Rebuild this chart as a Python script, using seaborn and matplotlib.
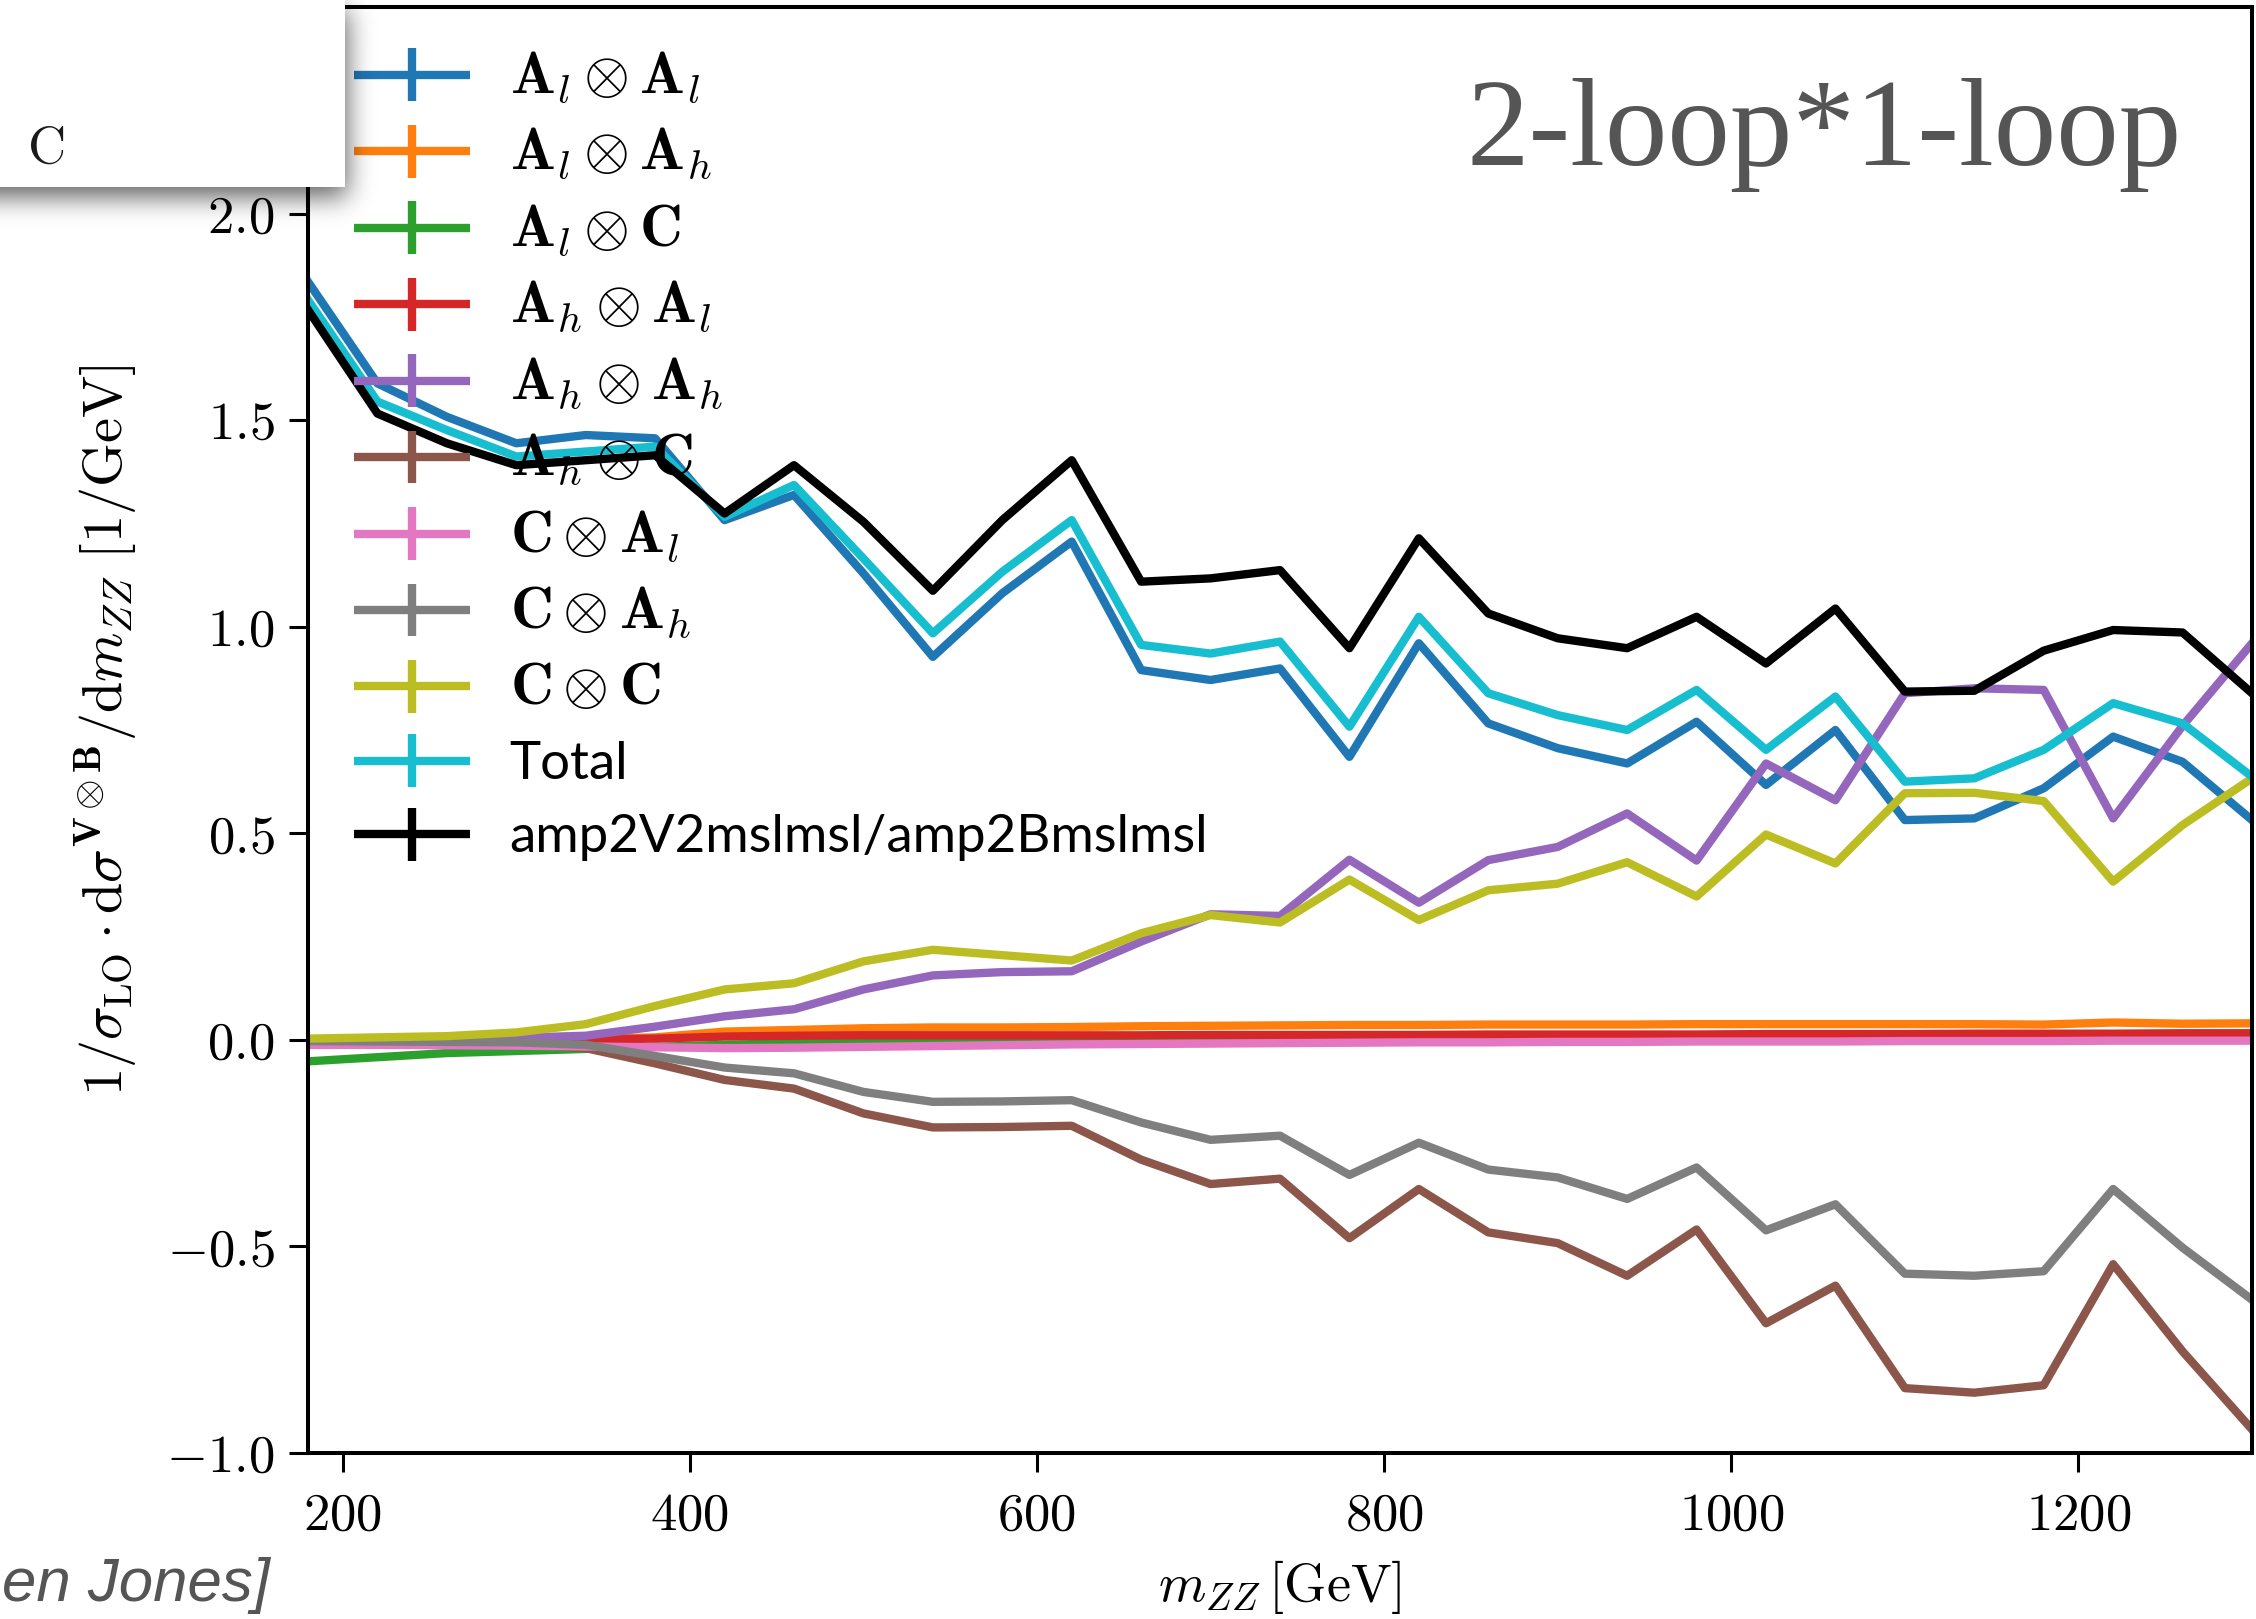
import numpy as np
import pandas as pd
import matplotlib
matplotlib.use("Agg")
import matplotlib.pyplot as plt
import seaborn as sns
from matplotlib.lines import Line2D
from matplotlib.legend_handler import HandlerBase
from matplotlib.patches import Rectangle
from matplotlib.ticker import FuncFormatter

# ---------------- data ----------------
m_zz = [180, 220, 260, 300, 340, 380, 420, 460, 500, 540, 580, 620, 660, 700, 740,
        780, 820, 860, 900, 940, 980, 1020, 1060, 1100, 1140, 1180, 1220, 1260, 1300]

al_al = [1.835, 1.589, 1.508, 1.444, 1.464, 1.456, 1.258, 1.319, 1.129, 0.927, 1.081, 1.206, 0.895, 0.871, 0.899,
         0.685, 0.960, 0.766, 0.706, 0.669, 0.770, 0.617, 0.750, 0.532, 0.536, 0.609, 0.734, 0.673, 0.532]
al_ah = [0.000, 0.000, 0.001, 0.001, 0.002, 0.006, 0.020, 0.024, 0.028, 0.030, 0.030, 0.031, 0.033, 0.034, 0.035,
         0.036, 0.036, 0.037, 0.037, 0.037, 0.038, 0.038, 0.038, 0.038, 0.038, 0.037, 0.042, 0.039, 0.040]
al_c = [-0.052, -0.042, -0.032, -0.027, -0.022, -0.017, -0.012, -0.008, -0.005, -0.003, -0.002, -0.001, 0.000, 0.000, 0.001,
        0.001, 0.001, 0.002, 0.002, 0.002, 0.002, 0.002, 0.003, 0.003, 0.003, 0.003, 0.003, 0.003, 0.003]
ah_al = [0.000, 0.000, 0.000, 0.000, 0.001, 0.003, 0.008, 0.010, 0.011, 0.011, 0.011, 0.011, 0.011, 0.012, 0.012,
         0.012, 0.012, 0.013, 0.013, 0.013, 0.013, 0.014, 0.014, 0.014, 0.015, 0.015, 0.015, 0.016, 0.016]
ah_ah = [0.000, 0.000, 0.002, 0.005, 0.010, 0.032, 0.057, 0.074, 0.122, 0.156, 0.164, 0.166, 0.238, 0.304, 0.300,
         0.436, 0.332, 0.435, 0.467, 0.548, 0.434, 0.669, 0.580, 0.839, 0.851, 0.847, 0.536, 0.760, 0.960]
ah_c = [-0.003, -0.004, -0.006, -0.009, -0.020, -0.057, -0.097, -0.118, -0.178, -0.212, -0.211, -0.208, -0.290, -0.349, -0.336,
        -0.480, -0.361, -0.466, -0.492, -0.571, -0.459, -0.686, -0.595, -0.843, -0.854, -0.836, -0.543, -0.754, -0.943]
c_al = [-0.012, -0.012, -0.013, -0.014, -0.016, -0.018, -0.020, -0.019, -0.017, -0.015, -0.013, -0.011, -0.010, -0.009, -0.008,
        -0.007, -0.006, -0.006, -0.005, -0.005, -0.004, -0.004, -0.004, -0.003, -0.003, -0.003, -0.002, -0.002, -0.002]
c_ah = [-0.003, -0.004, -0.005, -0.006, -0.012, -0.039, -0.067, -0.081, -0.126, -0.150, -0.149, -0.146, -0.200, -0.242, -0.232,
        -0.327, -0.249, -0.314, -0.333, -0.385, -0.309, -0.461, -0.398, -0.566, -0.571, -0.560, -0.361, -0.503, -0.629]
c_c = [0.003, 0.006, 0.009, 0.018, 0.038, 0.082, 0.122, 0.137, 0.190, 0.218, 0.205, 0.192, 0.258, 0.302, 0.284,
       0.388, 0.290, 0.362, 0.378, 0.430, 0.347, 0.497, 0.427, 0.597, 0.598, 0.578, 0.383, 0.520, 0.633]
total = [1.791, 1.545, 1.476, 1.412, 1.424, 1.436, 1.266, 1.343, 1.165, 0.984, 1.133, 1.258, 0.956, 0.935, 0.964,
         0.758, 1.024, 0.839, 0.786, 0.750, 0.847, 0.702, 0.831, 0.625, 0.633, 0.702, 0.815, 0.766, 0.637]
ratio = [1.767, 1.516, 1.444, 1.391, 1.403, 1.415, 1.274, 1.391, 1.254, 1.087, 1.258, 1.403, 1.109, 1.117, 1.137,
         0.948, 1.214, 1.032, 0.972, 0.948, 1.024, 0.911, 1.044, 0.843, 0.845, 0.942, 0.992, 0.986, 0.839]

series_labels = [r'$\mathbf{A}_l \otimes \mathbf{A}_l$', r'$\mathbf{A}_l \otimes \mathbf{A}_h$',
                 r'$\mathbf{A}_l \otimes \mathbf{C}$', r'$\mathbf{A}_h \otimes \mathbf{A}_l$',
                 r'$\mathbf{A}_h \otimes \mathbf{A}_h$', r'$\mathbf{A}_h \otimes \mathbf{C}$',
                 r'$\mathbf{C} \otimes \mathbf{A}_l$', r'$\mathbf{C} \otimes \mathbf{A}_h$',
                 r'$\mathbf{C} \otimes \mathbf{C}$', 'Total', 'amp2V2mslmsl/amp2Bmslmsl']
series_values = [al_al, al_ah, al_c, ah_al, ah_ah, ah_c, c_al, c_ah, c_c, total, ratio]
series_colors = ['#1f77b4', '#ff7f0e', '#2ca02c', '#d62728', '#9467bd', '#8c564b',
                 '#e377c2', '#7f7f7f', '#bcbd22', '#17becf', '#000000']

x_ticks = [200, 400, 600, 800, 1000, 1200]
y_ticks = [-1.0, -0.5, 0.0, 0.5, 1.0, 1.5, 2.0]

# ---------------- style ----------------
plt.rcParams['mathtext.fontset'] = 'cm'
plt.rcParams['font.family'] = ['Lato', 'DejaVu Sans']
plt.rcParams['axes.unicode_minus'] = True

W, H, DPI = 2256, 1619, 100
fig = plt.figure(figsize=(W / DPI, H / DPI), dpi=DPI)
fig.patch.set_facecolor('white')
ax = fig.add_axes([308 / W, 1 - 1453 / H, 1944 / W, 1446 / H])

frames = []
for lab, vals in zip(series_labels, series_values):
    frames.append(pd.DataFrame({'m_zz': m_zz, 'value': vals, 'series': lab}))
df = pd.concat(frames, ignore_index=True)

sns.lineplot(data=df, x='m_zz', y='value', hue='series', hue_order=series_labels,
             palette=dict(zip(series_labels, series_colors)), linewidth=6,
             legend=False, errorbar=None, ax=ax)

ax.set_xlim(180, 1300)
ax.set_ylim(-1.0, 2.5)
ax.set_xticks(x_ticks)
ax.set_yticks(y_ticks)
ax.xaxis.set_major_formatter(FuncFormatter(lambda v, p: r'$%d$' % int(round(v))))
ax.yaxis.set_major_formatter(FuncFormatter(lambda v, p: r'$%.1f$' % v))
ax.tick_params(direction='out', length=14, width=2.2, labelsize=38, pad=10)
ax.tick_params(axis='x', pad=14)
for s in ax.spines.values():
    s.set_linewidth(2.9)
ax.set_facecolor('white')

ax.set_xlabel(r'$m_{ZZ}\,[\mathrm{GeV}]$', fontsize=39, labelpad=14)
ax.set_ylabel(r'$1/\sigma_{\mathrm{LO}}\cdot\mathrm{d}\sigma^{\mathbf{V}\otimes\mathbf{B}}/\mathrm{d}m_{ZZ}\ [1/\mathrm{GeV}]$',
              fontsize=40.5, labelpad=20)


class CrossHandler(HandlerBase):
    def create_artists(self, legend, orig_handle, xdescent, ydescent, width, height, fontsize, trans):
        c = orig_handle.get_color()
        lw = orig_handle.get_linewidth()
        yc = height / 2 - ydescent
        x0, x1 = -xdescent, -xdescent + width
        xc = 0.5 * (x0 + x1)
        h = Line2D([x0, x1], [yc, yc], color=c, lw=lw, solid_capstyle='butt', transform=trans)
        v = Line2D([xc, xc], [yc - 0.5 * fontsize, yc + 0.5 * fontsize], color=c, lw=lw,
                   solid_capstyle='butt', transform=trans)
        return [h, v]


handles = ax.get_lines()[:len(series_labels)]
leg = ax.legend(handles, series_labels, handler_map={Line2D: CrossHandler()},
                loc='upper left', bbox_to_anchor=(354 / W, 1 - 49.5 / H), bbox_transform=fig.transFigure,
                frameon=False, fontsize=38, borderaxespad=0, borderpad=0,
                handlelength=2.2, handleheight=1.1, handletextpad=0.75, labelspacing=0.40)
for t in leg.get_texts():
    if t.get_text().startswith('$'):
        t.set_fontsize(42.5)
leg.set_zorder(5)

# ---------------- slide overlays ----------------
ov = fig.add_axes([0, 0, 1, 1], zorder=10)
ov.set_xlim(0, W)
ov.set_ylim(H, 0)
ov.axis('off')
ov.patch.set_alpha(0)

# drop shadow of the white box
box_w, box_h = 345, 187
sh_w, sh_h = 440, 290
mask = np.zeros((sh_h, sh_w))
mask[10:box_h + 10, 0:box_w + 2] = 1.0
sig = 13.0
k = np.arange(-40, 41)
g = np.exp(-0.5 * (k / sig) ** 2)
g /= g.sum()
pad = np.pad(mask, 40, mode='edge')
blur = np.apply_along_axis(lambda r: np.convolve(r, g, mode='same'), 1, pad)
blur = np.apply_along_axis(lambda c: np.convolve(c, g, mode='same'), 0, blur)
blur = blur[40:-40, 40:-40]
rgba = np.zeros((sh_h, sh_w, 4))
rgba[..., 3] = 0.62 * blur
ov.imshow(rgba, extent=(0, sh_w, sh_h, 0), interpolation='bilinear', zorder=1)
ov.add_patch(Rectangle((0, 0), box_w, box_h, facecolor='white', edgecolor='none', zorder=2))
ov.text(27, 163, r'$\mathrm{C}$', fontsize=38, ha='left', va='baseline', color='#1a1a1a', zorder=3)

ov.text(2182, 165, '2-loop*1-loop', family=['Liberation Serif', 'DejaVu Serif'], fontsize=90,
        color='#555555', ha='right', va='baseline', zorder=3)
ov.text(2, 1601, 'en Jones]', family=['Liberation Sans', 'DejaVu Sans'], style='italic',
        fontsize=44.5, color='#555555', ha='left', va='baseline', zorder=3)

fig.savefig('out.png', dpi=DPI, facecolor='white')
